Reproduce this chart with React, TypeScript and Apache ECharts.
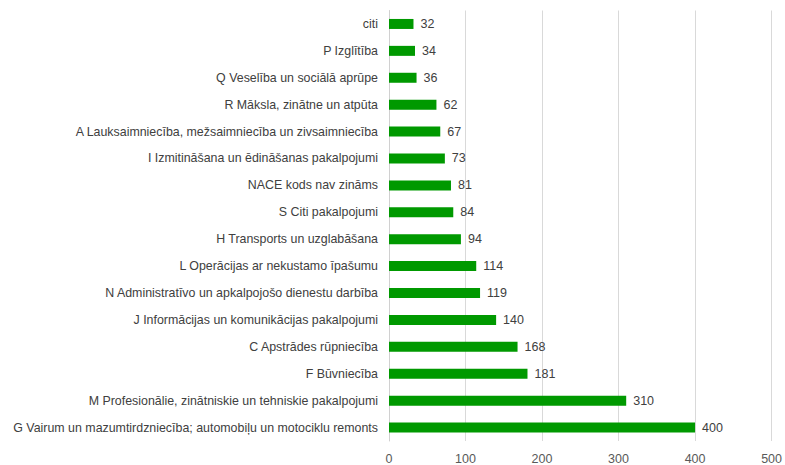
import React, { useEffect, useRef } from "react";
import * as echarts from "echarts";

const categories = [
  "citi",
  "P Izglītība",
  "Q Veselība un sociālā aprūpe",
  "R Māksla, zinātne un atpūta",
  "A Lauksaimniecība, mežsaimniecība un zivsaimniecība",
  "I Izmitināšana un ēdināšanas pakalpojumi",
  "NACE kods nav zināms",
  "S Citi pakalpojumi",
  "H Transports un uzglabāšana",
  "L Operācijas ar nekustamo īpašumu",
  "N Administratīvo un apkalpojošo dienestu darbība",
  "J Informācijas un komunikācijas pakalpojumi",
  "C Apstrādes rūpniecība",
  "F Būvniecība",
  "M Profesionālie, zinātniskie un tehniskie pakalpojumi",
  "G Vairum un mazumtirdzniecība; automobiļu un motociklu remonts",
];
const values = [32, 34, 36, 62, 67, 73, 81, 84, 94, 114, 119, 140, 168, 181, 310, 400];

export default function App() {
  const ref = useRef<HTMLDivElement>(null);
  useEffect(() => {
    if (!ref.current) return;
    const chart = echarts.init(ref.current, null, { renderer: "svg" });
    const font = "Liberation Sans, Arial, sans-serif";
    chart.setOption({
      animation: false,
      backgroundColor: "#ffffff",
      grid: { left: 389, right: 8, top: 10.5, bottom: 21.5, containLabel: false },
      xAxis: {
        type: "value",
        min: 0,
        max: 500,
        interval: 100,
        axisLine: { show: false },
        axisTick: { show: false },
        splitLine: { show: true, lineStyle: { color: "#d9d9d9", width: 1 } },
        axisLabel: { color: "#595959", fontSize: 12.5, fontFamily: font, margin: 11 },
      },
      yAxis: {
        type: "category",
        data: categories,
        inverse: true,
        axisLine: { show: true, lineStyle: { color: "#d0d0d0" } },
        axisTick: { show: false },
        axisLabel: { color: "#404040", fontSize: 12.4, fontFamily: font, margin: 11 },
      },
      series: [
        {
          type: "bar",
          data: values,
          barWidth: 10,
          itemStyle: { color: "#009900" },
          label: {
            show: true,
            position: "right",
            distance: 7,
            color: "#404040",
            fontSize: 12.5,
            fontFamily: font,
          },
        },
      ],
    });
    return () => chart.dispose();
  }, []);
  return (
    <div
      ref={ref}
      style={{ position: "fixed", left: 0, top: 0, width: 785, height: 465 }}
    />
  );
}
